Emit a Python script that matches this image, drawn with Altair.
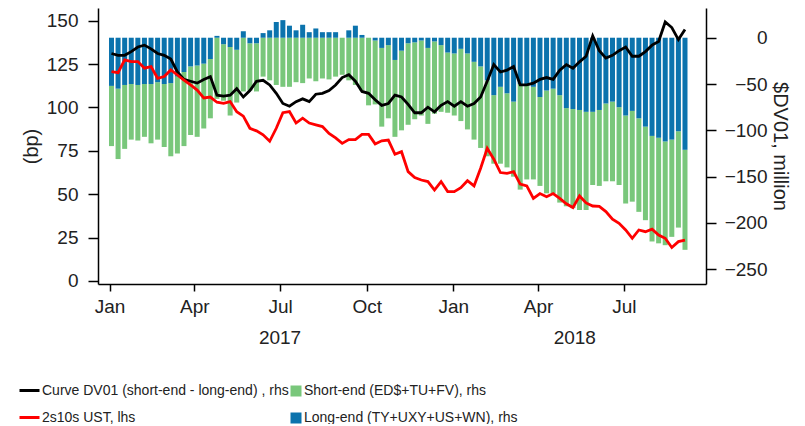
import altair as alt
import pandas as pd

# ---------------- data ----------------
first_date = "2017-01-03"          # weekly (Tuesday) observations
n_weeks = 88
dates = pd.date_range(first_date, periods=n_weeks, freq="7D").strftime("%Y-%m-%d").tolist()

# Long-end (TY+UXY+US+WN) DV01, $mn (rhs)
long_end = [-52, -55, -51, -50, -51, -50, -50, -48, -50, -49,
            -42, -37, -31, -30, -28, -23, 2, -7, -10, -13,
            7, -6, -6, 5, 8, 17, 19, 13, 8, 14,
            6, 10, 6, 6, 6, 0, 8, 13, 3, 0,
            -3, -11, -8, -24, -14, -6, -5, -3, -11, -4,
            -8, -16, -17, -12, -17, -26, -31, -46, -62, -53,
            -60, -69, -50, -51, -53, -64, -57, -55, -62, -76,
            -77, -78, -80, -80, -78, -71, -69, -75, -84, -79,
            -87, -96, -106, -108, -112, -110, -101, -121]

# Short-end (ED$+TU+FV) DV01, $mn (rhs)
short_end = [-65, -76, -69, -60, -60, -57, -64, -62, -68, -79,
             -83, -80, -74, -77, -70, -64, -66, -61, -74, -57,
             -58, -51, -52, -42, -46, -51, -53, -53, -48, -49,
             -44, -47, -44, -45, -42, -40, -46, -51, -57, -73,
             -69, -85, -79, -83, -86, -88, -83, -81, -82, -78,
             -72, -65, -67, -78, -82, -84, -88, -82, -74, -83,
             -80, -81, -114, -102, -100, -96, -111, -113, -116, -106,
             -107, -108, -106, -79, -82, -84, -86, -84, -95, -98,
             -101, -101, -114, -114, -112, -105, -104, -108]

# Curve DV01 (short-end - long-end), $mn (rhs)
curve = [-17, -19, -19, -15, -10, -8, -12, -17, -19, -23,
         -37, -45, -47, -49, -45, -42, -62, -63, -62, -55,
         -64, -57, -47, -46, -51, -60, -71, -74, -69, -66,
         -69, -61, -60, -57, -51, -43, -40, -47, -58, -60,
         -67, -73, -71, -62, -64, -72, -81, -81, -75, -80,
         -73, -69, -74, -69, -74, -71, -64, -47, -29, -37,
         -35, -31, -51, -51, -49, -45, -43, -45, -35, -29,
         -33, -26, -20, 2, -14, -22, -19, -14, -10, -20,
         -20, -15, -8, -4, 17, 11, -2, 9]

# 2s10s UST, bp (lhs)
ust = [120.6, 120.0, 127.4, 126.4, 126.4, 122.6, 123.5, 116.8, 117.8, 121.6,
       118.7, 115.8, 113.0, 110.0, 105.5, 106.0, 103.0, 102.4, 103.4, 97.5,
       95.0, 88.0, 86.5, 84.2, 80.5, 88.0, 97.0, 97.6, 91.0, 93.8,
       91.0, 90.0, 89.0, 85.0, 82.5, 79.3, 81.5, 81.5, 84.5, 84.5,
       79.0, 80.8, 81.2, 73.0, 74.5, 63.0, 59.6, 58.2, 57.3, 52.4,
       57.3, 51.5, 51.5, 53.8, 57.8, 54.8, 65.0, 76.5, 70.2, 62.5,
       62.0, 63.0, 55.8, 54.8, 47.6, 50.4, 48.6, 50.4, 47.6, 44.5,
       42.3, 49.0, 45.0, 43.2, 43.0, 40.0, 35.6, 33.2, 29.4, 24.6,
       29.4, 28.4, 29.9, 26.5, 24.6, 19.3, 22.7, 23.6]

curve_label = "Curve DV01 (short-end - long-end) , rhs"
ust_label = "2s10s UST, lhs"
short_label = "Short-end (ED$+TU+FV), rhs"
long_label = "Long-end (TY+UXY+US+WN), rhs"

month_ticks = [(2017, 1), (2017, 4), (2017, 7), (2017, 10), (2018, 1), (2018, 4), (2018, 7)]
years = ["2017", "2018"]
year_centers = ["2017-07-01", "2018-05-10"]
left_ticks = [0, 25, 50, 75, 100, 125, 150]
right_ticks = [-250, -200, -150, -100, -50, 0]

# ---------------- tables ----------------
bar_df = pd.DataFrame({
    "date": dates + dates,
    "series": [short_label] * n_weeks + [long_label] * n_weeks,
    "value": short_end + long_end,
    "ord": [1] * n_weeks + [0] * n_weeks,
})
curve_df = pd.DataFrame({"date": dates, "series": curve_label, "value": curve})
ust_df = pd.DataFrame({"date": dates, "series": ust_label, "value": ust})
year_df = pd.DataFrame({"date": year_centers, "label": years})

# ---------------- styling ----------------
FONT = "Liberation Sans"
TXT = "#222222"
GREEN = "#79c77b"
BLUE = "#0b73ad"

x_scale = alt.Scale(type="utc", domain=[alt.DateTime(year=2016, month=12, date=25, utc=True),
                                        alt.DateTime(year=2018, month=9, date=21, utc=True)])
x_axis = alt.Axis(values=[alt.DateTime(year=y, month=m, date=1, utc=True) for y, m in month_ticks],
                  format="%b", title=None, tickSize=7, labelPadding=6, grid=False)

y_right_scale = alt.Scale(domain=[-265.9, 32.1], nice=False, zero=False)
y_right_axis = alt.Axis(orient="right", values=right_ticks, title="$DV01, million", tickSize=10,
                        labelAlign="right", labelPadding=51, titlePadding=2, grid=False)
y_left_scale = alt.Scale(domain=[-1.73, 157.3], nice=False, zero=False)
y_left_axis = alt.Axis(orient="left", values=left_ticks, title="(bp)", tickSize=10,
                       labelPadding=10, titlePadding=5, grid=False)

X = alt.X("date:T", scale=x_scale, axis=x_axis)

bars = alt.Chart(bar_df).mark_bar(size=5).encode(
    x=X,
    y=alt.Y("value:Q", scale=y_right_scale, axis=y_right_axis, stack="zero"),
    fill=alt.Fill("series:N",
                  scale=alt.Scale(domain=[short_label, long_label], range=[GREEN, BLUE]),
                  legend=alt.Legend(orient="none", legendX=191, legendY=376, title=None,
                                    symbolType="square", symbolSize=121, labelOffset=1,
                                    rowPadding=13, padding=0, labelLimit=400)),
    order=alt.Order("ord:Q", sort="ascending"),
)

color_scale = alt.Scale(domain=[curve_label, ust_label], range=["#000000", "#ff0000"])
line_legend = alt.Legend(orient="none", legendX=-80, legendY=371, title=None,
                         symbolType="stroke", symbolSize=400, symbolStrokeWidth=3,
                         labelOffset=1, rowPadding=8, padding=0, labelLimit=400)

black = alt.Chart(curve_df).mark_line(strokeWidth=2.8).encode(
    x=X,
    y=alt.Y("value:Q", scale=y_right_scale, axis=y_right_axis, stack=False),
    color=alt.Color("series:N", scale=color_scale, legend=line_legend),
)

red = alt.Chart(ust_df).mark_line(strokeWidth=2.8).encode(
    x=X,
    y=alt.Y("value:Q", scale=y_left_scale, axis=y_left_axis, stack=False),
    color=alt.Color("series:N", scale=color_scale, legend=line_legend),
)

year_text = alt.Chart(year_df).mark_text(fontSize=19, font=FONT, color=TXT, baseline="middle").encode(
    x=X,
    y=alt.value(330),
    text="label:N",
)

right_group = alt.layer(bars, black)

chart = alt.layer(right_group, red, year_text).resolve_scale(
    y="independent"
).properties(
    width=608,
    height=276,
    padding={"left": 90, "top": 0, "right": 90, "bottom": 140},
    autosize=alt.AutoSizeParams(type="none"),
).configure_axis(
    labelFont=FONT, titleFont=FONT, labelFontSize=19, titleFontSize=20,
    labelColor=TXT, titleColor=TXT, titleFontWeight="normal",
    domainColor="#000000", tickColor="#000000", domainWidth=1.5, tickWidth=1.5,
).configure_legend(
    labelFont=FONT, labelFontSize=14, labelColor=TXT,
).configure_view(
    stroke="transparent"
)

chart.save("out.html", embed_options={"renderer": "svg", "actions": False})
